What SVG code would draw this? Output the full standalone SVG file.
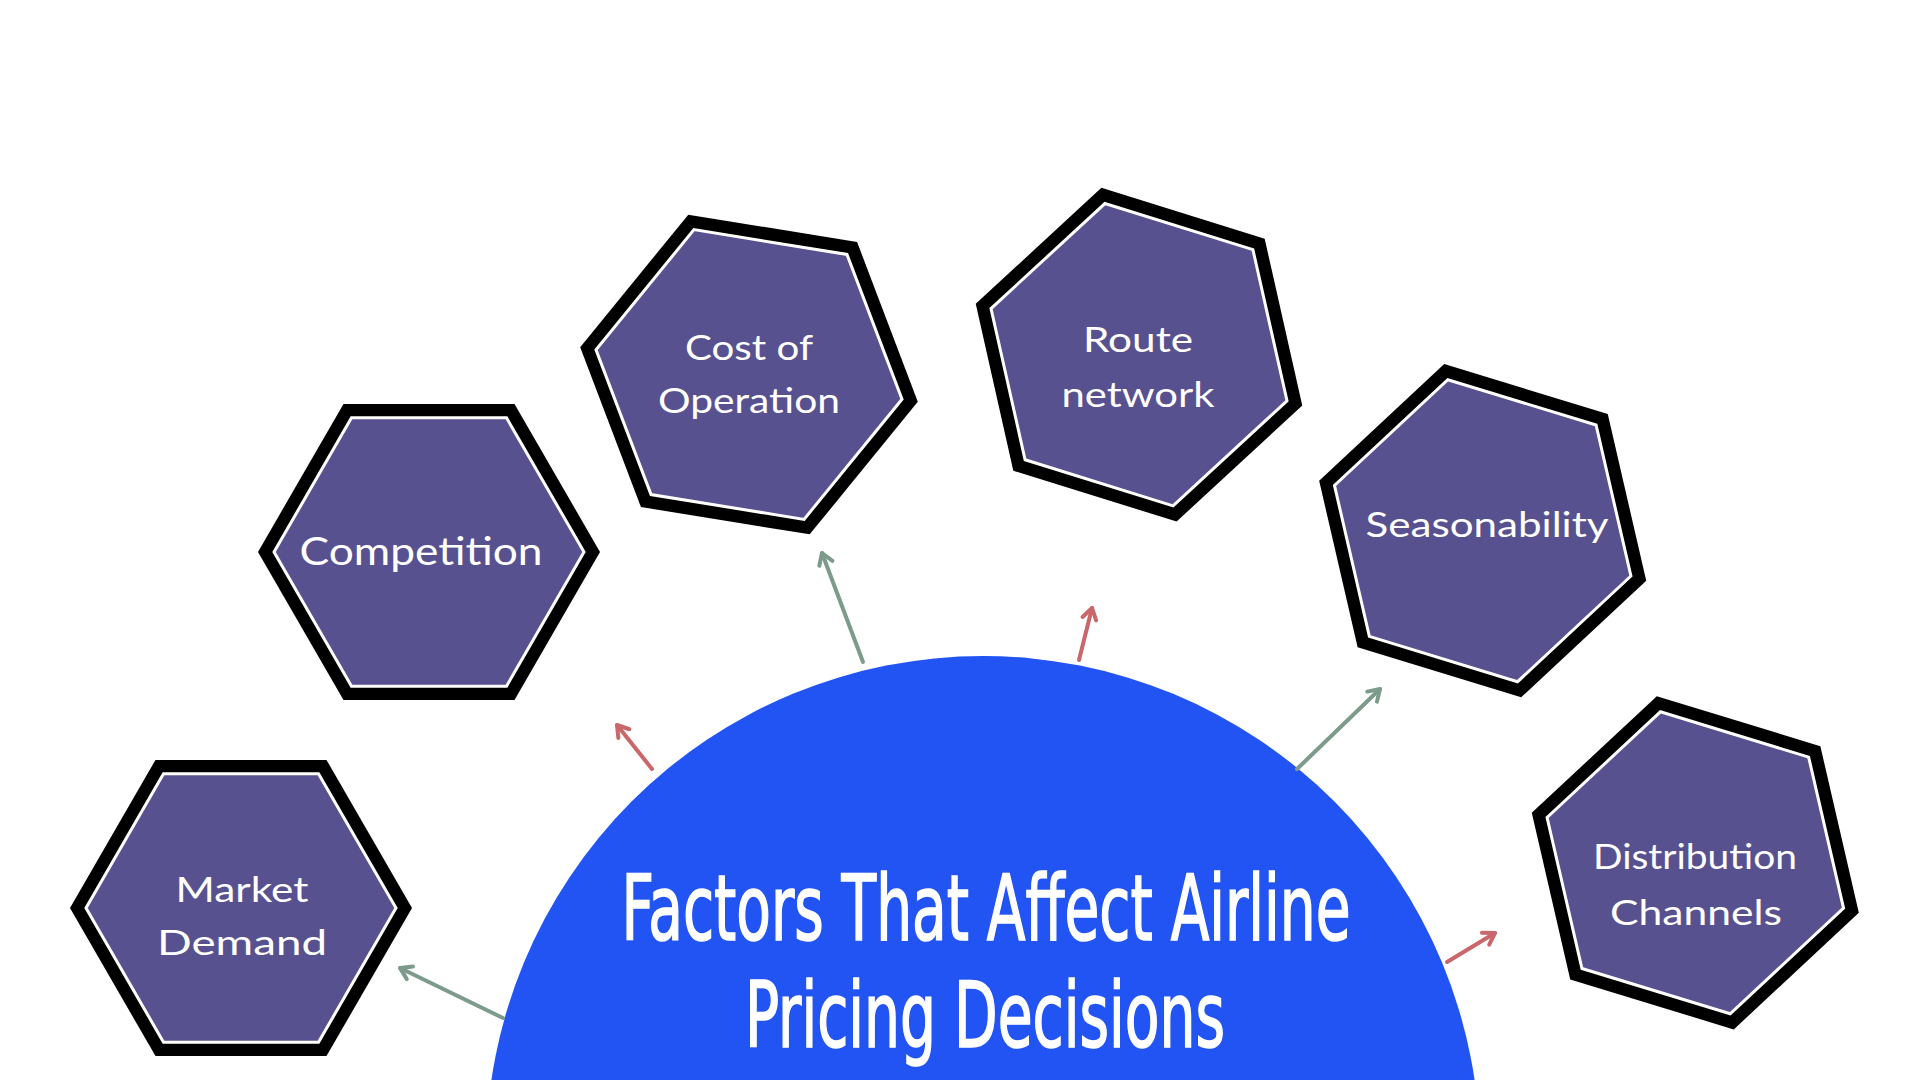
<svg xmlns="http://www.w3.org/2000/svg" xmlns:xlink="http://www.w3.org/1999/xlink" width="1920" height="1080" viewBox="0 0 1920 1080">
  <style>
    .hex-outer { fill: #000000; }
    .hex-inner { fill: #58518F; stroke: #FFFFFF; stroke-width: 3; }
    .label { font-family: Lato, "Open Sans", "Liberation Sans", sans-serif; font-size: 35px; fill: #FFFFFF; text-anchor: middle; }
    .title { font-family: "Liberation Sans Narrow", "DejaVu Sans Condensed", "Liberation Sans", sans-serif; font-size: 90px; fill: #FFFFFF; stroke: #FFFFFF; stroke-width: 1.6; text-anchor: middle; }
    .arrow-g { fill: none; stroke: #7D9B8B; stroke-width: 4; stroke-linecap: round; }
    .arrow-r { fill: none; stroke: #C9676B; stroke-width: 4; stroke-linecap: round; }
  </style>
  <defs>
    <polygon id="hexOuter" points="171,0 85.5,148.1 -85.5,148.1 -171,0 -85.5,-148.1 85.5,-148.1"/>
    <polygon id="hexInner" points="155,0 77.5,134.2 -77.5,134.2 -155,0 -77.5,-134.2 77.5,-134.2"/>
    <marker id="headG" viewBox="0 0 16 16" refX="14" refY="8" markerWidth="16" markerHeight="16" orient="auto" markerUnits="userSpaceOnUse" overflow="visible">
      <path d="M3,1 L14,8 L3,15" fill="none" stroke="#7D9B8B" stroke-width="4" stroke-linecap="round" stroke-linejoin="round"/>
    </marker>
    <marker id="headR" viewBox="0 0 16 16" refX="14" refY="8" markerWidth="16" markerHeight="16" orient="auto" markerUnits="userSpaceOnUse" overflow="visible">
      <path d="M3,1 L14,8 L3,15" fill="none" stroke="#C9676B" stroke-width="4" stroke-linecap="round" stroke-linejoin="round"/>
    </marker>
  </defs>

  <rect x="0" y="0" width="1920" height="1080" fill="#FFFFFF"/>

  <g id="center-topic">
    <circle cx="983" cy="1153" r="497" fill="#2254F4"/>
    <text class="title" x="986" y="940" textLength="729" lengthAdjust="spacingAndGlyphs">Factors That Affect Airline</text>
    <text class="title" x="985" y="1047" textLength="480" lengthAdjust="spacingAndGlyphs">Pricing Decisions</text>
  </g>

  <g id="connectors">
    <line class="arrow-g" x1="503" y1="1018" x2="400" y2="968" marker-end="url(#headG)"/>
    <line class="arrow-r" x1="652" y1="769" x2="617" y2="725" marker-end="url(#headR)"/>
    <line class="arrow-g" x1="863" y1="662" x2="822" y2="553" marker-end="url(#headG)"/>
    <line class="arrow-r" x1="1079" y1="660" x2="1092" y2="608" marker-end="url(#headR)"/>
    <line class="arrow-g" x1="1297" y1="769" x2="1380" y2="689" marker-end="url(#headG)"/>
    <line class="arrow-r" x1="1447" y1="962" x2="1495" y2="933" marker-end="url(#headR)"/>
  </g>

  <g id="node-market-demand">
    <g transform="translate(241,908)">
      <use xlink:href="#hexOuter" class="hex-outer"/>
      <use xlink:href="#hexInner" class="hex-inner"/>
    </g>
    <text class="label" x="242" y="902" textLength="133" lengthAdjust="spacingAndGlyphs">Market</text>
    <text class="label" x="242" y="955" textLength="170" lengthAdjust="spacingAndGlyphs">Demand</text>
  </g>

  <g id="node-competition">
    <g transform="translate(429,552)">
      <use xlink:href="#hexOuter" class="hex-outer"/>
      <use xlink:href="#hexInner" class="hex-inner"/>
    </g>
    <text class="label" x="421" y="565" style="font-size:38px" textLength="243" lengthAdjust="spacingAndGlyphs">Competition</text>
  </g>

  <g id="node-cost-of-operation">
    <g transform="translate(749,374.5) rotate(9.2)">
      <use xlink:href="#hexOuter" class="hex-outer"/>
      <use xlink:href="#hexInner" class="hex-inner"/>
    </g>
    <text class="label" x="749" y="360" textLength="128" lengthAdjust="spacingAndGlyphs">Cost of</text>
    <text class="label" x="749" y="413" textLength="182" lengthAdjust="spacingAndGlyphs">Operation</text>
  </g>

  <g id="node-route-network">
    <g transform="translate(1139,354.7) rotate(17.3)">
      <use xlink:href="#hexOuter" class="hex-outer"/>
      <use xlink:href="#hexInner" class="hex-inner"/>
    </g>
    <text class="label" x="1138" y="352" textLength="110" lengthAdjust="spacingAndGlyphs">Route</text>
    <text class="label" x="1138" y="407" textLength="153" lengthAdjust="spacingAndGlyphs">network</text>
  </g>

  <g id="node-seasonability">
    <g transform="translate(1482.7,530.7) rotate(17)">
      <use xlink:href="#hexOuter" class="hex-outer"/>
      <use xlink:href="#hexInner" class="hex-inner"/>
    </g>
    <text class="label" x="1487" y="537" textLength="243" lengthAdjust="spacingAndGlyphs">Seasonability</text>
  </g>

  <g id="node-distribution-channels">
    <g transform="translate(1695.3,862.8) rotate(17)">
      <use xlink:href="#hexOuter" class="hex-outer"/>
      <use xlink:href="#hexInner" class="hex-inner"/>
    </g>
    <text class="label" x="1695" y="869" style="font-size:34px" textLength="204" lengthAdjust="spacingAndGlyphs">Distribution</text>
    <text class="label" x="1696" y="925" style="font-size:34px" textLength="172" lengthAdjust="spacingAndGlyphs">Channels</text>
  </g>
</svg>
